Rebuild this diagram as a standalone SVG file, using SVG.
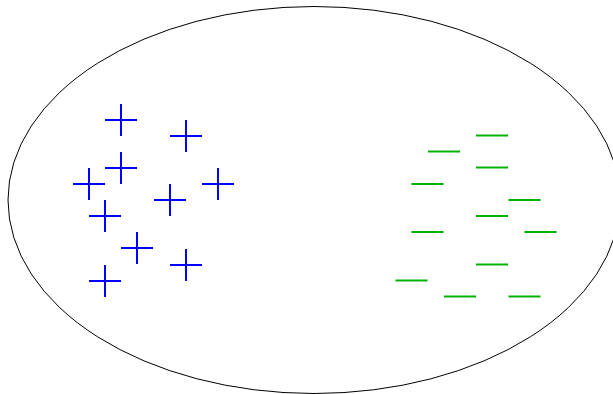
<svg xmlns="http://www.w3.org/2000/svg" width="613" height="394" viewBox="0 0 613 394">
<style>
.c{stroke:#0000ff;stroke-width:2;fill:none}
.d{stroke:#00b000;stroke-width:2;fill:none}
</style>
<defs>
<path id="plus" class="c" d="M-16,0H16M0,-16V16"/>
<path id="minus" class="d" d="M0,0H32"/>
</defs>
<rect width="613" height="394" fill="#fff"/>
<ellipse id="region" cx="314" cy="200" rx="306" ry="193.5" fill="none" stroke="#000" stroke-width="1"/>
<g id="positives">
<use href="#plus" x="121" y="120"/>
<use href="#plus" x="186" y="136"/>
<use href="#plus" x="121" y="168"/>
<use href="#plus" x="89" y="184"/>
<use href="#plus" x="218" y="184"/>
<use href="#plus" x="170" y="200"/>
<use href="#plus" x="105" y="216"/>
<use href="#plus" x="137" y="248"/>
<use href="#plus" x="186" y="265"/>
<use href="#plus" x="105" y="281"/>
</g>
<g id="negatives">
<use href="#minus" x="476" y="135.5"/>
<use href="#minus" x="428" y="151.5"/>
<use href="#minus" x="476" y="167.5"/>
<use href="#minus" x="411.5" y="184"/>
<use href="#minus" x="508.5" y="200"/>
<use href="#minus" x="476" y="216"/>
<use href="#minus" x="411.5" y="232"/>
<use href="#minus" x="524.5" y="232"/>
<use href="#minus" x="476" y="264.5"/>
<use href="#minus" x="395.5" y="280.5"/>
<use href="#minus" x="444" y="296.5"/>
<use href="#minus" x="508.5" y="296.5"/>
</g>
</svg>
